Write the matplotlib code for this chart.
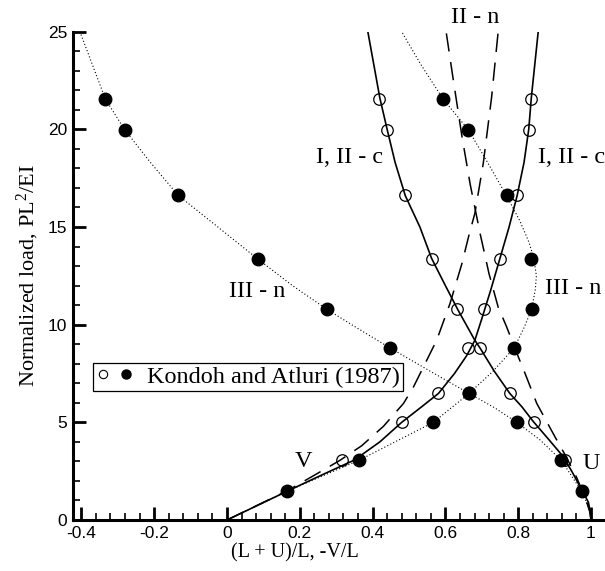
import matplotlib
matplotlib.use("Agg")
import matplotlib.pyplot as plt
from matplotlib.lines import Line2D
from matplotlib.legend_handler import HandlerTuple
from matplotlib.ticker import MultipleLocator, FormatStrFormatter

plt.rcParams['mathtext.fontset'] = 'custom'
plt.rcParams['mathtext.rm'] = 'Liberation Serif'
plt.rcParams['mathtext.it'] = 'Liberation Serif:italic'

SERIF = 'Liberation Serif'
SANS = 'Liberation Sans'

# load levels of the Kondoh and Atluri data
load = [1.48, 3.07, 5.0, 6.48, 8.81, 10.79, 13.37, 16.62, 19.98, 21.55]

# open circles (I, II - c), -V/L branch and (L+U)/L branch (from 2nd level)
open_v = [0.315, 0.48, 0.581, 0.663, 0.706, 0.75, 0.798, 0.830, 0.835]
open_u = [0.929, 0.843, 0.777, 0.695, 0.633, 0.564, 0.49, 0.44, 0.418]

# filled circles (III - n)
fill_v = [0.166, 0.364, 0.567, 0.665, 0.789, 0.837, 0.835, 0.768, 0.663, 0.593]
fill_u = [0.974, 0.918, 0.796, 0.665, 0.448, 0.274, 0.084, -0.134, -0.281, -0.334]

# solid curves  I, II - c
sol_v_x = [0, 0.166, 0.26, 0.35, 0.42, 0.48, 0.535, 0.581, 0.625, 0.658, 0.681, 0.70, 0.725, 0.75, 0.775, 0.797, 0.816, 0.829, 0.836, 0.855]
sol_v_y = [0, 1.48, 2.3, 3.07, 4.0, 5.0, 5.8, 6.48, 7.5, 8.4, 9.2, 10.3, 11.8, 13.4, 15.0, 16.6, 18.3, 20.0, 21.6, 25]
sol_u_x = [1.0, 0.998, 0.993, 0.982, 0.97, 0.95, 0.924, 0.885, 0.842, 0.81, 0.777, 0.735, 0.695, 0.681, 0.635, 0.60, 0.562, 0.53, 0.49, 0.462, 0.44, 0.42, 0.387]
sol_u_y = [0, 0.4, 0.9, 1.3, 1.7, 2.4, 3.24, 4.1, 5.03, 5.8, 6.48, 7.6, 8.81, 9.2, 10.74, 12.0, 13.4, 15.0, 16.6, 18.3, 20.0, 21.6, 25]

# dashed curves  II - n
dsh_v_x = [0, 0.166, 0.25, 0.31, 0.37, 0.43, 0.485, 0.512, 0.544, 0.576, 0.613, 0.645, 0.665, 0.681, 0.704, 0.727, 0.745]
dsh_v_y = [0, 1.5, 2.4, 3.05, 3.8, 4.8, 5.97, 6.8, 8.0, 9.2, 11.1, 13.1, 14.6, 15.7, 18.25, 21.65, 25]
dsh_u_x = [1.0, 0.997, 0.985, 0.96, 0.93, 0.901, 0.851, 0.819, 0.795, 0.768, 0.745, 0.72, 0.695, 0.668, 0.645, 0.622, 0.602]
dsh_u_y = [0, 0.4, 1.1, 2.2, 3.3, 4.26, 5.97, 7.5, 8.6, 9.9, 10.9, 12.6, 14.7, 17.2, 19.7, 22.5, 25]

# dotted curves  III - n
dot_v_x = [0, 0.166, 0.364, 0.567, 0.665, 0.73, 0.789, 0.815, 0.837, 0.847, 0.85, 0.843, 0.83, 0.805, 0.768, 0.713, 0.663, 0.593, 0.53, 0.48]
dot_v_y = [0, 1.48, 3.07, 5.0, 6.48, 7.6, 8.81, 9.8, 10.78, 11.8, 12.5, 13.4, 14.2, 15.3, 16.6, 18.4, 19.98, 21.57, 23.4, 25]
dot_u_x = [1.0, 0.995, 0.974, 0.918, 0.86, 0.796, 0.735, 0.665, 0.56, 0.448, 0.36, 0.274, 0.18, 0.084, -0.025, -0.134, -0.21, -0.281, -0.334, -0.404]
dot_u_y = [0, 0.6, 1.48, 3.07, 4.1, 5.0, 5.75, 6.48, 7.6, 8.81, 9.8, 10.79, 12.0, 13.37, 15.0, 16.62, 18.3, 19.98, 21.55, 25]


def main():
    fig = plt.figure(figsize=(6.05, 5.71), dpi=100)
    ax = fig.add_axes([73 / 605, 51 / 571, 532 / 605, 488.3 / 571])

    ax.plot(sol_v_x, sol_v_y, color='black', lw=1.2)
    ax.plot(sol_u_x, sol_u_y, color='black', lw=1.2)
    ax.plot(dsh_v_x, dsh_v_y, color='black', lw=1.1, dashes=(12, 7))
    ax.plot(dsh_u_x, dsh_u_y, color='black', lw=1.1, dashes=(12, 7))
    ax.plot(dot_v_x, dot_v_y, color='black', lw=0.8, ls=(0, (1, 2)))
    ax.plot(dot_u_x, dot_u_y, color='black', lw=0.8, ls=(0, (1, 2)))

    ax.plot(open_v, load[1:], 'o', ms=8.3, mfc='none', mec='black', mew=0.9, clip_on=False)
    ax.plot(open_u, load[1:], 'o', ms=8.3, mfc='none', mec='black', mew=0.9, clip_on=False)
    ax.plot(fill_v, load, 'o', ms=9, color='black', clip_on=False)
    ax.plot(fill_u, load, 'o', ms=9, color='black', clip_on=False)

    txt = dict(family=SERIF, fontsize=17.5, ha='center', va='center')
    ax.text(0.681, 25.75, 'II - n', **txt)
    ax.text(0.338, 18.57, 'I, II - c', **txt)
    ax.text(0.947, 18.57, 'I, II - c', **txt)
    ax.text(0.082, 11.68, 'III - n', **txt)
    ax.text(0.952, 11.85, 'III - n', **txt)
    ax.text(0.211, 2.98, 'V', **txt)
    ax.text(1.0, 2.9, 'U', **txt)

    h_open = Line2D([], [], ls='none', marker='o', ms=6, mfc='none', mec='black', mew=0.8)
    h_fill = Line2D([], [], ls='none', marker='o', ms=6.5, color='black')
    leg = ax.legend([(h_open, h_fill)], ['Kondoh and Atluri (1987)'],
                    handler_map={tuple: HandlerTuple(ndivide=None, pad=0.4)},
                    loc='upper left', bbox_to_anchor=(0.0376, 0.3215),
                    borderaxespad=0, borderpad=0.12, handlelength=1.5, handletextpad=0.6,
                    fancybox=False, framealpha=1, edgecolor='black',
                    prop={'family': SERIF, 'size': 17.5})
    leg.get_frame().set_linewidth(0.9)

    ax.set_xlim(-0.423, 1.0385)
    ax.set_ylim(0, 25)
    ax.spines['top'].set_visible(False)
    ax.spines['right'].set_visible(False)
    for s in ('left', 'bottom'):
        ax.spines[s].set_linewidth(2.2)

    ax.xaxis.set_major_locator(MultipleLocator(0.2))
    ax.xaxis.set_minor_locator(MultipleLocator(0.04))
    ax.yaxis.set_major_locator(MultipleLocator(5))
    ax.yaxis.set_minor_locator(MultipleLocator(1))
    ax.xaxis.set_major_formatter(FormatStrFormatter('%g'))
    ax.yaxis.set_major_formatter(FormatStrFormatter('%g'))
    ax.set_xticks([-0.4, -0.2, 0, 0.2, 0.4, 0.6, 0.8, 1.0])
    ax.tick_params(which='major', direction='in', length=9.5, width=2, pad=4, labelsize=12.5)
    ax.tick_params(which='minor', direction='in', length=5, width=1.2)
    for lab in ax.get_xticklabels() + ax.get_yticklabels():
        lab.set_family(SANS)

    ax.set_xlabel('(L + U)/L, -V/L', family=SERIF, fontsize=14.5)
    ax.xaxis.set_label_coords(0.417, -0.047)
    ax.set_ylabel('Normalized load, PL$^{2}$/EI', family=SERIF, fontsize=16)
    ax.yaxis.set_label_coords(-0.06, 0.5)

    fig.savefig('out.png', dpi=100)


if __name__ == "__main__":
    main()
